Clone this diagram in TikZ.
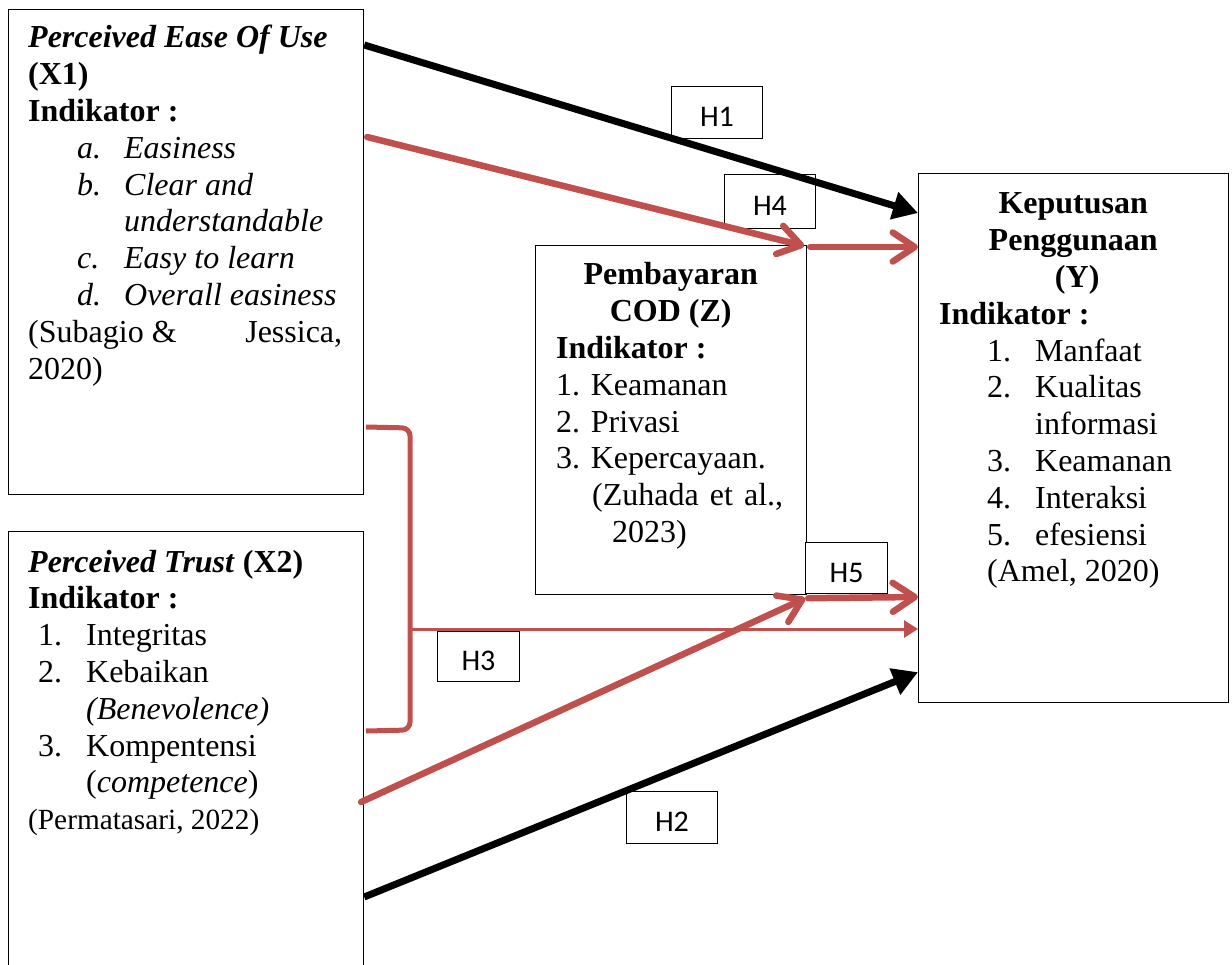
\documentclass[tikz,border=0pt]{standalone}
\usepackage{fontspec}
\setmainfont{Liberation Serif}
\setsansfont{Carlito}
\usetikzlibrary{arrows.meta,calc}
\definecolor{myred}{HTML}{C0504D}
\begin{document}
\begin{tikzpicture}[x=1pt,y=-1pt,
  box/.style={draw=black, line width=1.2pt, rectangle, anchor=north west, inner sep=0pt},
  hbox/.style={draw=black, line width=1pt, fill=white, rectangle, anchor=north west, inner sep=0pt, text height=28pt, text depth=0pt, font=\sffamily\fontsize{30}{32}\selectfont},
  txt/.style={anchor=base west, inner sep=0pt, font=\fontsize{32}{36.8}\selectfont},
  blk/.style={draw=black, line width=7pt, -{Triangle[length=25pt,width=27pt]}},
  redthick/.style={draw=myred, line width=6.5pt, line cap=round, -{Straight Barb[length=22pt,width=29pt,round]}},
  redthin/.style={draw=myred, line width=3pt, -{Triangle[length=14pt,width=17pt]}},
  bracket/.style={draw=myred, line width=5pt, rounded corners=8pt}
]
\useasboundingbox (0,0) rectangle (1232,965);

% boxes
\node[box, minimum width=355pt, minimum height=485pt] (x1) at (8,9) {};
\node[box, minimum width=355pt, minimum height=445pt] (x2) at (8,531) {};
\node[box, minimum width=271pt, minimum height=349pt] (z) at (535,245) {};
\node[box, minimum width=310pt, minimum height=529pt] (y) at (918,173) {};

% texts
\node[txt] (x1t) at (28,48) {\parbox[t]{330pt}{\raggedright
\textbf{\textit{Perceived Ease Of Use}}\\
\textbf{(X1)}\\
\textbf{Indikator :}\\
\hspace*{49pt}\makebox[47pt][l]{\textit{a.}}\textit{Easiness}\\
\hspace*{49pt}\makebox[47pt][l]{\textit{b.}}\textit{Clear and}\\
\hspace*{96pt}\textit{understandable}\\
\hspace*{49pt}\makebox[47pt][l]{\textit{c.}}\textit{Easy to learn}\\
\hspace*{49pt}\makebox[47pt][l]{\textit{d.}}\textit{Overall easiness}\\
\makebox[314pt][l]{(Subagio \&\hfill Jessica,}\\
2020)}};

\node[txt] (x2t) at (28,572) {\parbox[t]{330pt}{\raggedright
\textbf{\textit{Perceived Trust}} \textbf{(X2)}\\
\textbf{Indikator :}\\
\hspace*{10pt}\makebox[48pt][l]{1.}Integritas\\
\hspace*{10pt}\makebox[48pt][l]{2.}Kebaikan\\
\hspace*{58pt}\textit{(Benevolence)}\\
\hspace*{10pt}\makebox[48pt][l]{3.}Kompentensi\\
\hspace*{58pt}(\textit{competence})\\
{\fontsize{29.3}{36.8}\selectfont(Permatasari, 2022)}}};

\node[txt] (zt) at (556,285) {\parbox[t]{232pt}{\raggedright
\makebox[229pt][c]{\textbf{Pembayaran}}\\
\makebox[229pt][c]{\textbf{COD (Z)}}\\
\textbf{Indikator :}\\
1. Keamanan\\
2. Privasi\\
3. Kepercayaan.\\
\hspace*{36pt}\makebox[191pt][s]{(Zuhada et al.,}\\
\hspace*{56pt}2023)}};

\node[txt] (yt) at (939,214) {\parbox[t]{280pt}{\raggedright
\makebox[268pt][c]{\textbf{Keputusan}}\\
\makebox[268pt][c]{\textbf{Penggunaan}}\\
\makebox[276pt][c]{\textbf{(Y)}}\\
\textbf{Indikator :}\\
\hspace*{48pt}\makebox[48pt][l]{1.}Manfaat\\
\hspace*{48pt}\makebox[48pt][l]{2.}Kualitas\\
\hspace*{96pt}informasi\\
\hspace*{48pt}\makebox[48pt][l]{3.}Keamanan\\
\hspace*{48pt}\makebox[48pt][l]{4.}Interaksi\\
\hspace*{48pt}\makebox[48pt][l]{5.}efesiensi\\
\hspace*{48pt}(Amel, 2020)}};

% hypothesis labels
\node[hbox, minimum width=91pt, minimum height=52pt] (h1) at (671,86) {H1};
\node[hbox, minimum width=91pt, minimum height=54pt] (h4) at (724,174) {H4};
\node[hbox, minimum width=82pt, minimum height=51pt] (h5) at (805,542) {H5};
\node[hbox, minimum width=82pt, minimum height=50pt] (h3) at (437,631) {H3};
\node[hbox, minimum width=91pt, minimum height=52pt] (h2) at (626,791) {H2};

% bracket
\coordinate (bt) at (366,427);
\coordinate (bm) at (410,629);
\coordinate (bb) at (366,731);
\draw[bracket] (bt) -- (410,428) -- (410,730) -- (bb);

% connectors
\draw[blk] ($(x1.north east)+(0,36)$) -- ($(y.north west)+(0,40)$);
\draw[redthick] ($(x1.north east)+(3,128)$) -- ($(z.north east)+(-3,1)$);
\draw[redthick] ($(z.north east)+(3,2)$) -- ($(y.north west)+(0,74)$);
\draw[redthick] ($(x2.north east)+(-3,271)$) -- ($(z.south east)+(-2,3)$);
\draw[redthick] ($(z.south east)+(1,3)$) -- ($(y.north west)+(0,424)$);
\draw[redthin] (bm) -- ($(y.north west)+(0,456)$);
\draw[blk] ($(x2.north east)+(0,366)$) -- ($(y.south west)+(0,-31)$);
\end{tikzpicture}
\end{document}
